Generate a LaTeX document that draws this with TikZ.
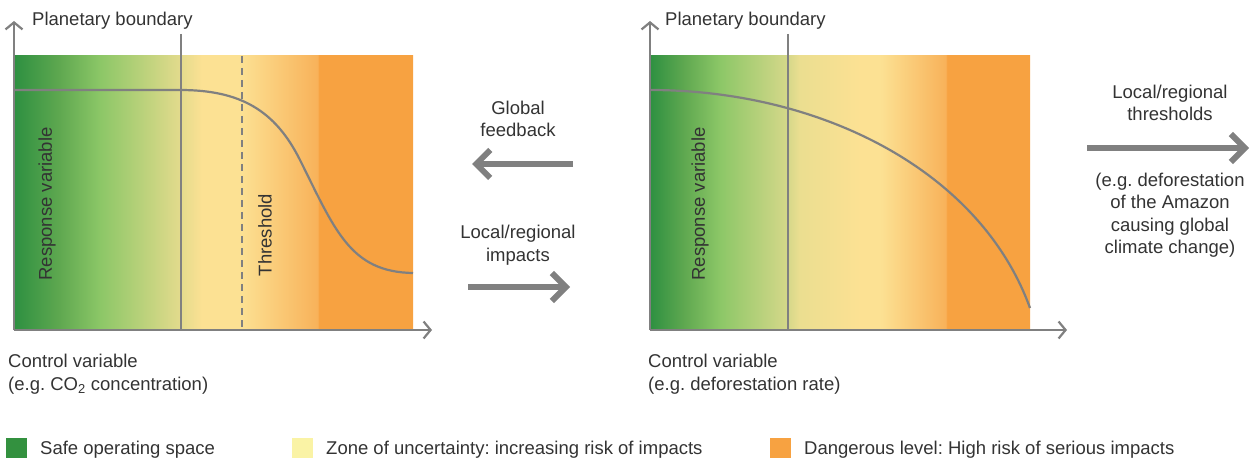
\documentclass[tikz,border=0pt]{standalone}
\usepackage{fontspec}
\setmainfont{Liberation Sans}
\usepackage{tikz}
\usepackage{xcolor}
\usetikzlibrary{arrows.meta}
\frenchspacing

\definecolor{safegreen}{HTML}{2E9041}
\definecolor{midgreen}{HTML}{5FA850}
\definecolor{lightgreen}{HTML}{8CC767}
\definecolor{olivepale}{HTML}{D6D88A}
\definecolor{palegreen}{HTML}{E4DB8D}
\definecolor{paleyellow}{HTML}{EBDE90}
\definecolor{zoneyellow}{HTML}{FCE193}
\definecolor{lightorange}{HTML}{F8B25A}
\definecolor{dangerorange}{HTML}{F7A241}
\definecolor{legendgreen}{HTML}{33913F}
\definecolor{legendyellow}{HTML}{FAF3A5}
\definecolor{axisgray}{HTML}{808080}
\definecolor{textgray}{HTML}{333333}

\pgfdeclarehorizontalshading{leftzones}{100bp}{color(0bp)=(safegreen); color(25bp)=(safegreen);
  color(30.6bp)=(midgreen); color(35.7bp)=(lightgreen); color(45.9bp)=(palegreen);
  color(48.5bp)=(zoneyellow); color(53.3bp)=(zoneyellow); color(63bp)=(lightorange);
  color(63.2bp)=(dangerorange); color(75bp)=(dangerorange); color(100bp)=(dangerorange)}
\pgfdeclarehorizontalshading{rightzones}{100bp}{color(0bp)=(safegreen); color(25bp)=(safegreen);
  color(29.5bp)=(midgreen); color(34.2bp)=(lightgreen); color(43.2bp)=(olivepale);
  color(44.7bp)=(paleyellow); color(52.6bp)=(zoneyellow); color(55.3bp)=(zoneyellow);
  color(63.9bp)=(lightorange); color(64.1bp)=(dangerorange); color(75bp)=(dangerorange);
  color(100bp)=(dangerorange)}

\begin{document}
\begin{tikzpicture}[x=1pt,y=-1pt,
  lbl/.style={text=textgray,inner sep=0pt,font=\fontsize{18.5}{22.5}\selectfont},
  axis/.style={draw=axisgray,line width=2.2pt,-{Straight Barb[length=7pt,width=17pt]}},
  bound/.style={draw=axisgray,line width=2.2pt},
  curve/.style={draw=axisgray,line width=2.2pt},
  bigarrow/.style={draw=axisgray,line width=6pt,-{Straight Barb[length=14pt,width=28pt]}},
  key/.style={minimum width=21pt,minimum height=20pt,inner sep=0pt,anchor=north west}]
\useasboundingbox (0,0) rectangle (1258,462);
% left panel
\shade[shading=leftzones] (15,56) rectangle (413,330);
\coordinate (lo) at (14,330);
\coordinate (ly) at (14,21);
\coordinate (lx) at (432,330);
\draw[bound] (181,34) -- (181,330);
\draw[bound,dash pattern=on 7pt off 5pt] (242,56) -- (242,330);
\draw[curve] (15,90) -- (180,90) .. controls (240,90) and (275,110) .. (300,160)
  .. controls (335,230) and (350,272) .. (413,273);
\draw[axis] (lo) -- (ly);
\draw[axis] (lo) -- (lx);
\node[lbl,anchor=west] (lpb) at (32,21) {Planetary boundary};
\node[lbl,rotate=90] (lresp) at (47,204) {Response variable};
\node[lbl,rotate=90] (lthr) at (265,235) {Threshold};
\node[lbl,anchor=north west,align=left] (lctrl) at (8,354) {Control variable\\(e.g. CO\textsubscript{2} concentration)};
% middle arrows
\node[lbl,align=center] (gfb) at (518,119) {Global\\feedback};
\coordinate (gfs) at (573,164);
\coordinate (gfe) at (472,164);
\draw[bigarrow] (gfs) -- (gfe);
\node[lbl,align=center] (limp) at (518,245) {Local/regional\\impacts};
\coordinate (lis) at (468,287);
\coordinate (lie) at (570,287);
\draw[bigarrow] (lis) -- (lie);
% right panel
\shade[shading=rightzones] (650,56) rectangle (1030,330);
\coordinate (ro) at (650,330);
\coordinate (ry) at (650,21);
\coordinate (rx) at (1067,330);
\draw[bound] (788,34) -- (788,330);
\draw[curve] (650,90) .. controls (820,90) and (980,170) .. (1030,308);
\draw[axis] (ro) -- (ry);
\draw[axis] (ro) -- (rx);
\node[lbl,anchor=west] (rpb) at (665,21) {Planetary boundary};
\node[lbl,rotate=90] (rresp) at (700,204) {Response variable};
\node[lbl,anchor=north west,align=left] (rctrl) at (648,354) {Control variable\\(e.g. deforestation rate)};
\node[lbl,align=center] (lrt) at (1170,103) {Local/regional\\thresholds};
\coordinate (lts) at (1087,148);
\coordinate (lte) at (1249,148);
\draw[bigarrow] (lts) -- (lte);
\node[lbl,align=center] (amaz) at (1170,215) {(e.g. deforestation\\of the Amazon\\causing global\\climate change)};
% legend
\node[key,fill=legendgreen] (ksafe) at (6,438) {};
\node[lbl,anchor=west] at (40,450) {Safe operating space};
\node[key,fill=legendyellow] (kzone) at (292,438) {};
\node[lbl,anchor=west] at (326,450) {Zone of uncertainty: increasing risk of impacts};
\node[key,fill=dangerorange] (kdang) at (770,438) {};
\node[lbl,anchor=west] at (804,450) {Dangerous level: High risk of serious impacts};
\end{tikzpicture}
\end{document}
